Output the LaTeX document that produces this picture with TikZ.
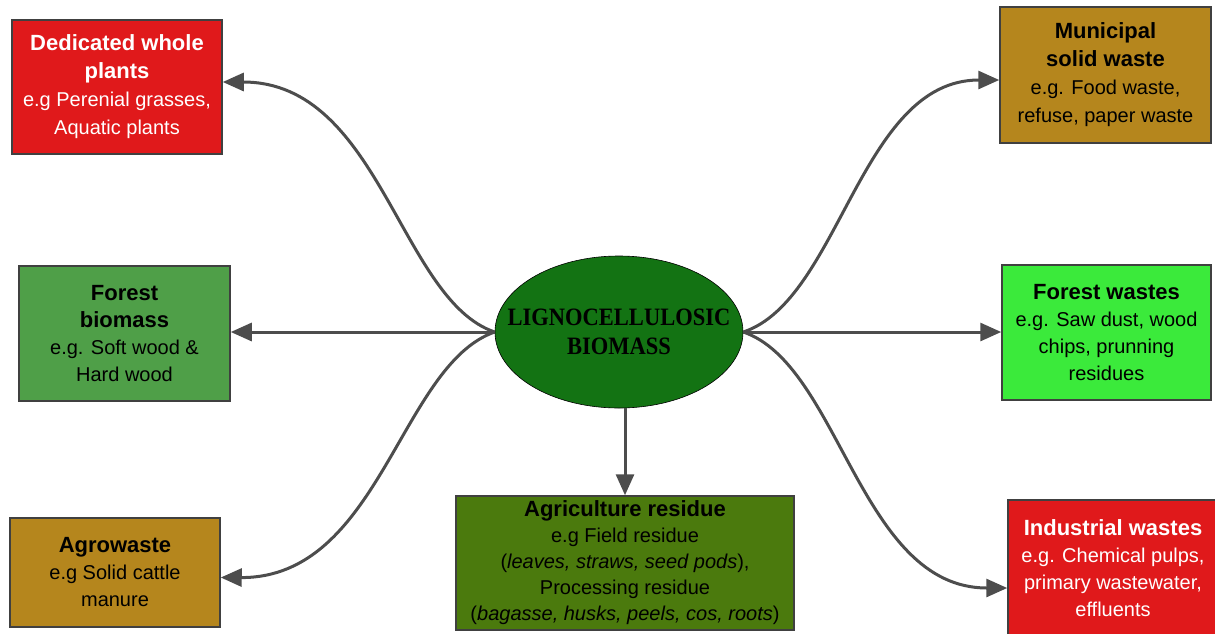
\documentclass[tikz,border=0pt]{standalone}
\usepackage{fontspec}
\setmainfont{Liberation Sans}
\newfontfamily\titleserif[FakeStretch=0.9]{Liberation Serif}
\usetikzlibrary{shapes.geometric,arrows.meta}
\definecolor{boxred}{HTML}{E0191B}
\definecolor{boxgold}{HTML}{B5861D}
\definecolor{boxforest}{HTML}{4F9F48}
\definecolor{boxlime}{HTML}{3BEA3B}
\definecolor{boxolive}{HTML}{4B7A0D}
\definecolor{ellgreen}{HTML}{137313}
\definecolor{arrgray}{HTML}{4D4D4D}
\definecolor{edgegray}{HTML}{404040}
\newcommand{\hd}[1]{{\fontsize{22}{27}\selectfont\bfseries #1}}
\tikzset{
  srcbox/.style={draw=edgegray, line width=1.5pt, rectangle, inner sep=0pt, align=center,
    font=\fontsize{20}{27}\selectfont},
  link/.style={draw=arrgray, line width=3pt, -{Triangle[length=21pt,width=18pt]}}
}
\begin{document}
\begin{tikzpicture}[x=1pt,y=-1pt]
\useasboundingbox (0,0) rectangle (1215,633);
\node[ellipse, fill=ellgreen, draw=black, line width=0.6pt, minimum width=248pt, minimum height=152pt, inner sep=0pt] (bio) at (619,332) {};
\node[align=center, inner sep=0pt, font=\titleserif\fontsize{25}{29}\selectfont\bfseries] (biotext) at (bio.center) {LIGNOCELLULOSIC\\BIOMASS};

\node[srcbox, fill=boxred, text=white, minimum width=210pt, minimum height=134pt, font=\fontsize{20}{28}\selectfont] (ded) at (117,87)
  {\hd{Dedicated whole}\\\hd{plants}\\e.g Perenial grasses,\\Aquatic plants};
\node[srcbox, fill=boxgold, text=black, minimum width=211pt, minimum height=136pt, font=\fontsize{20}{28}\selectfont] (mun) at (1105.5,75)
  {\hd{Municipal}\\\hd{solid waste}\\e.g. Food waste,\\refuse, paper waste};
\node[srcbox, fill=boxforest, text=black, minimum width=211pt, minimum height=135pt] (fbio) at (124.5,333.5)
  {\hd{Forest}\\\hd{biomass}\\e.g. Soft wood \&\\Hard wood};
\node[srcbox, fill=boxlime, text=black, minimum width=209pt, minimum height=135pt] (fwas) at (1106.5,332.5)
  {\hd{Forest wastes}\\e.g. Saw dust, wood\\chips, prunning\\residues};
\node[srcbox, fill=boxgold, text=black, minimum width=210pt, minimum height=109pt] (agro) at (115,572.5)
  {\hd{Agrowaste}\\e.g Solid cattle\\manure};
\node[srcbox, fill=boxolive, text=black, minimum width=338pt, minimum height=134pt, font=\fontsize{20}{26}\selectfont] (agr) at (625,563)
  {{\fontsize{22}{26}\selectfont\bfseries Agriculture residue}\\e.g Field residue\\(\textit{leaves, straws, seed pods}),\\Processing residue\\(\textit{bagasse, husks, peels, cos, roots})};
\node[srcbox, fill=boxred, text=white, minimum width=210pt, minimum height=136pt] (ind) at (1113,568)
  {\hd{Industrial wastes}\\e.g. Chemical pulps,\\primary wastewater,\\effluents};

\draw[link] (bio.west) .. controls (400,300) and (380,82) .. ([yshift=5pt]ded.east);
\draw[link] (bio.west) -- (bio.west -| fbio.east);
\draw[link] (bio.west) .. controls (400,365) and (380,578) .. ([yshift=-5pt]agro.east);
\draw[link] (bio.east) .. controls (840,300) and (860,80) .. ([yshift=-5pt]mun.west);
\draw[link] (bio.east) -- (bio.east -| fwas.west);
\draw[link] (bio.east) .. controls (840,365) and (860,588) .. ([yshift=-20pt]ind.west);
\draw[link] (bio.south -| agr.north) -- (agr.north);
\end{tikzpicture}
\end{document}
